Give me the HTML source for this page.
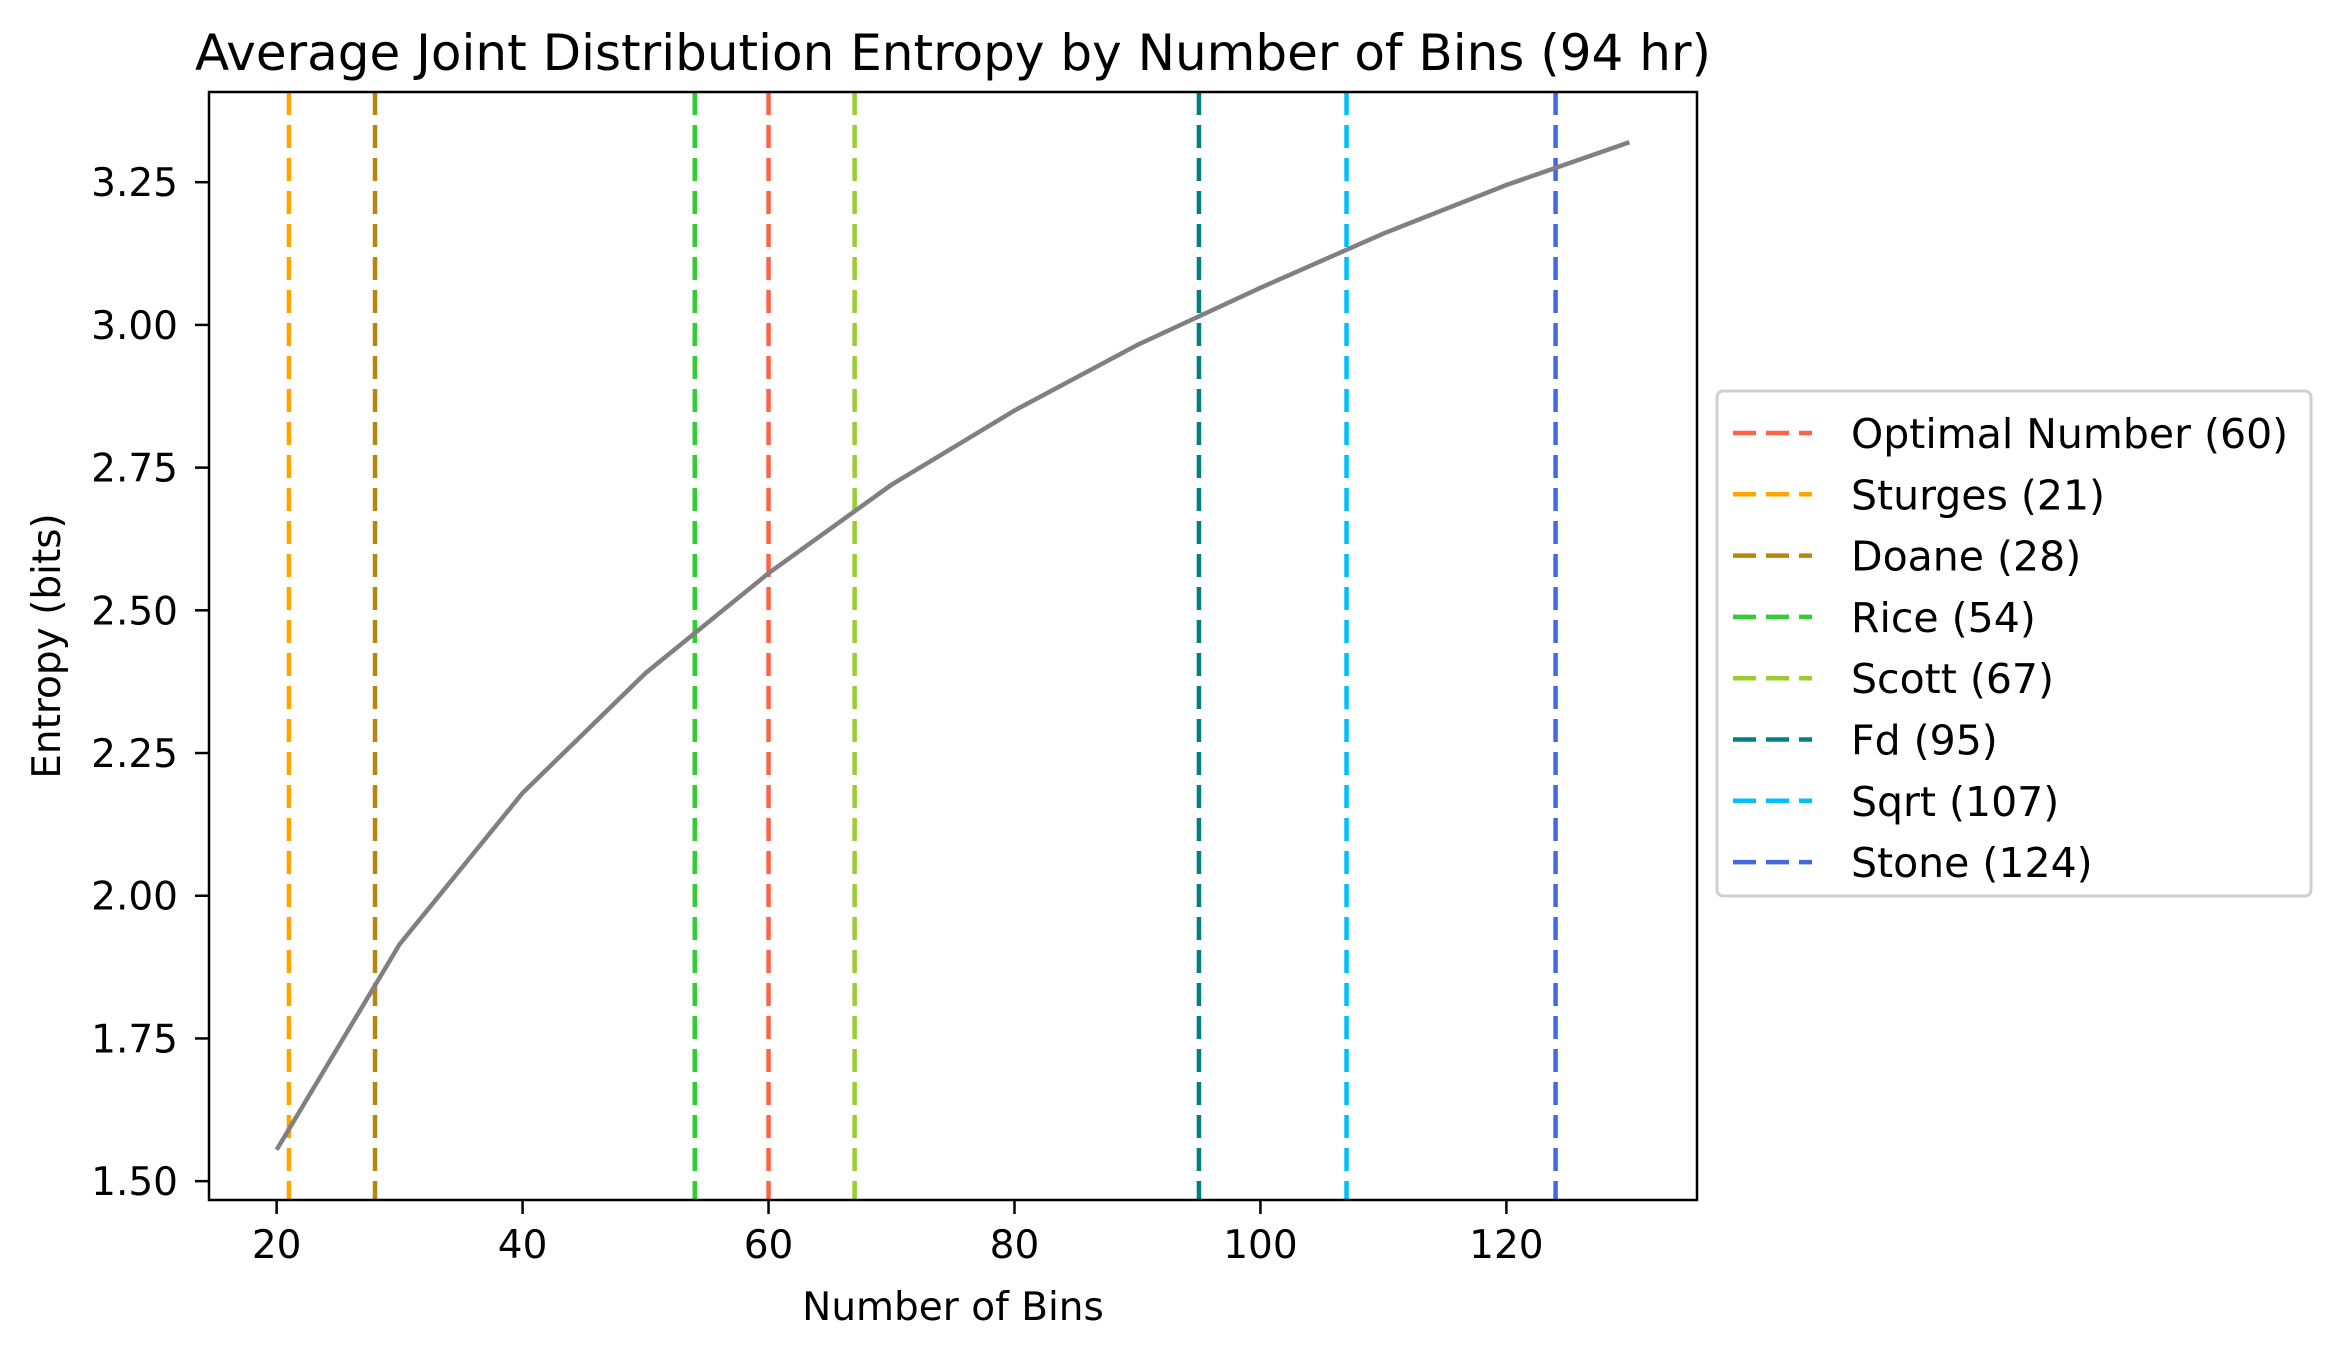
<!DOCTYPE html>
<html><head><meta charset="utf-8"><style>
body{margin:0;background:#fff;}
svg{display:block;font-family:"DejaVu Sans","Liberation Sans",sans-serif;}
</style></head><body>
<svg id="chart" width="2341" height="1357" viewBox="0 0 2341 1357"></svg>
<script>
const binCounts=[20,30,40,50,60,70,80,90,100,110,120,130];
const entropyValues=[1.555,1.915,2.18,2.39,2.565,2.72,2.85,2.965,3.065,3.16,3.245,3.32];
const refNames=["Optimal Number (60)","Sturges (21)","Doane (28)","Rice (54)","Scott (67)","Fd (95)","Sqrt (107)","Stone (124)"];
const refValues=[60,21,28,54,67,95,107,124];
const refColors=["#ff6347","#ffa500","#b8860b","#32cd32","#9acd32","#008080","#00bfff","#4169e1"];
const xTicks=[20,40,60,80,100,120];
const yTicks=[1.50,1.75,2.00,2.25,2.50,2.75,3.00,3.25];
const L=209,R=1697,T=92,B=1200;
const xMin=14.5,xMax=135.5,yMin=1.467,yMax=3.408;
const sx=v=>L+(v-xMin)/(xMax-xMin)*(R-L);
const sy=v=>B-(v-yMin)/(yMax-yMin)*(B-T);
const svg=document.getElementById('chart');
const NS="http://www.w3.org/2000/svg";
function mk(tag,attrs,txt){const e=document.createElementNS(NS,tag);for(const k in attrs)e.setAttribute(k,attrs[k]);if(txt!==undefined)e.textContent=txt;svg.appendChild(e);return e;}
refValues.forEach((v,i)=>{
  const e=mk('line',{x1:sx(v),x2:sx(v),y1:T,y2:B,stroke:refColors[i],'stroke-width':4.5,'stroke-dasharray':'23,10'});
  
  
});
const pts=binCounts.map((b,i)=>sx(b)+','+sy(entropyValues[i])).join(' ');
const pl=mk('polyline',{points:pts,fill:'none',stroke:'#808080','stroke-width':4.5});


const fr=mk('rect',{x:L,y:T,width:R-L,height:B-T,fill:'none',stroke:'#000','stroke-width':2.5});


xTicks.forEach(t=>{
  mk('line',{x1:sx(t),x2:sx(t),y1:B,y2:B+14,stroke:'#000','stroke-width':2.5});
  const e=mk('text',{x:sx(t),y:B+58,'font-size':39,'text-anchor':'middle'},String(t));
  
  
});
yTicks.forEach(t=>{
  mk('line',{x1:L-14,x2:L,y1:sy(t),y2:sy(t),stroke:'#000','stroke-width':2.5});
  const e=mk('text',{x:L-31,y:sy(t)+14,'font-size':39,'text-anchor':'end'},t.toFixed(2));
  
  
});
let e=mk('text',{x:(L+R)/2,y:70,'font-size':50,'text-anchor':'middle'},'Average Joint Distribution Entropy by Number of Bins (94 hr)');


e=mk('text',{x:(L+R)/2,y:1320,'font-size':39,'text-anchor':'middle'},'Number of Bins');


e=mk('text',{x:60,y:(T+B)/2,'font-size':39,'text-anchor':'middle',transform:'rotate(-90 60 '+((T+B)/2)+')'},'Entropy (bits)');


e=mk('rect',{x:1717,y:391,width:594,height:505,rx:6,fill:'#fff',stroke:'#d0d0d0','stroke-width':3});


refNames.forEach((n,i)=>{
  const y=433+i*61.3;
  mk('line',{x1:1733,x2:1812,y1:y,y2:y,stroke:refColors[i],'stroke-width':4.5,'stroke-dasharray':'23,10'});
  const t=mk('text',{x:1851,y:y+15,'font-size':41},n);
  
  
});
</script>
</body></html>
